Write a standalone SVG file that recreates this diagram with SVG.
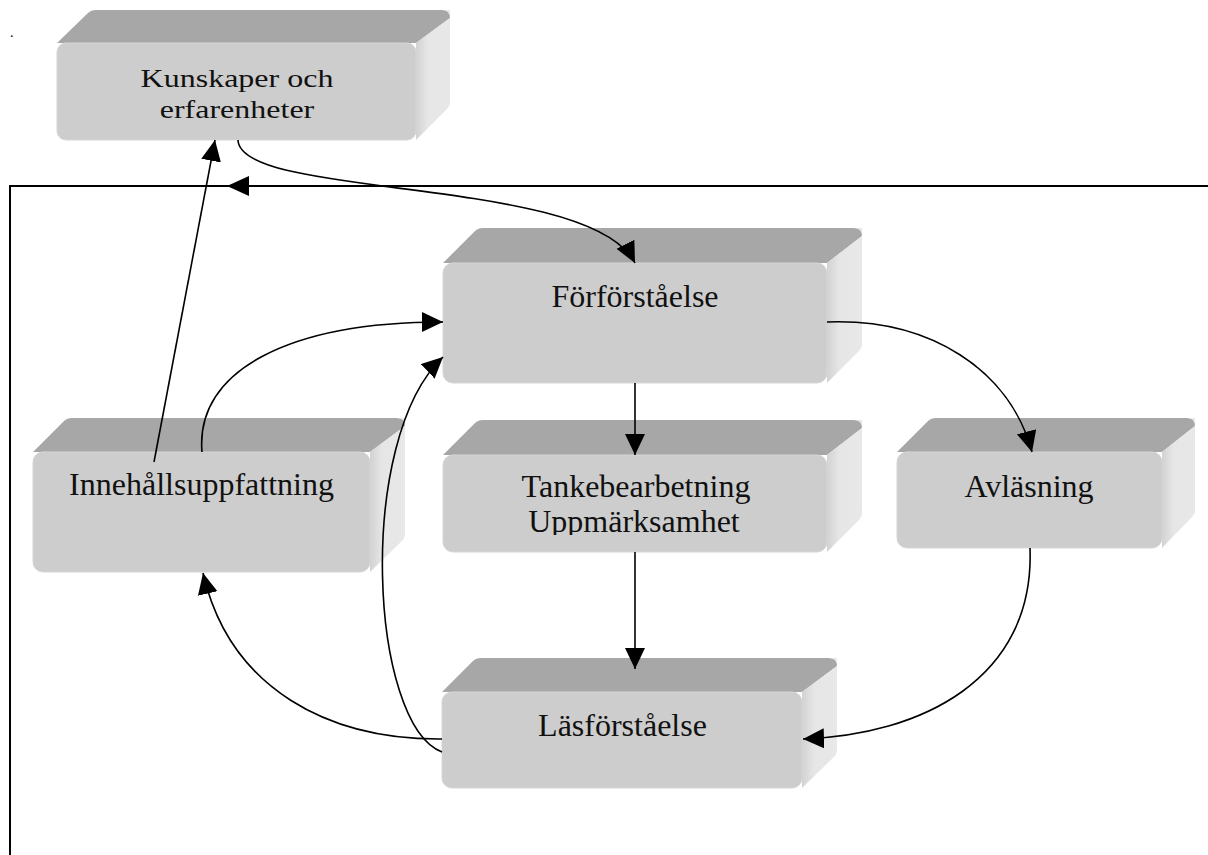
<svg xmlns="http://www.w3.org/2000/svg" width="1208" height="855" viewBox="0 0 1208 855">
<style>
.top{fill:#a6a7a6}
.side{fill:url(#sideGrad)}
.front{fill:#cdcdcd;stroke:#d6d6d6;stroke-width:1}
.lbl{font-family:"Liberation Serif","Times New Roman",serif;font-size:32px;fill:#111;text-anchor:middle}
.con{fill:none;stroke:#000;stroke-width:1.6}
.frame{fill:none;stroke:#000;stroke-width:2}
</style>
<defs>
<linearGradient id="sideGrad" x1="0" y1="0" x2="1" y2="0">
<stop offset="0" stop-color="#d2d2d2"/>
<stop offset="0.35" stop-color="#e6e6e6"/>
<stop offset="1" stop-color="#e8e8e8"/>
</linearGradient>
<marker id="arr" markerUnits="userSpaceOnUse" markerWidth="22" markerHeight="22" refX="21" refY="10" orient="auto">
<path d="M0,0 L21,10 L0,20 Z" fill="#000"/>
</marker>
<clipPath id="clipT"><rect x="443" y="455" width="384" height="80"/></clipPath>
</defs>
<rect width="1208" height="855" fill="#fff"/>
<text x="10" y="37" style="font-family:'Liberation Serif',serif;font-size:14px">.</text>

<g id="frame">
<path class="frame" d="M1208,186 H10 V855"/>
<polygon points="227,186 249,176 249,196" fill="#000"/>
</g>

<g id="node-kunskaper">
<path class="top" d="M57,43 L88,13 Q91,10 96,10 L442,10 Q450,10 450,18 L416,43 Z"/>
<path class="side" d="M416,43 L450,18 Q450,10 442,10 L450,10 L450,103 Q450,106 447,109 L416,140 Z"/>
<rect class="front" x="57" y="43" width="359" height="97" rx="9"/>
<text class="lbl" transform="matrix(1 0 0 0.8 0 0)"><tspan x="237" y="108.5">Kunskaper och</tspan><tspan x="237" y="147.5">erfarenheter</tspan></text>
</g>

<g id="node-forforstaelse">
<path class="top" d="M443,263 L475,231 Q478,228 483,228 L854,228 Q862,228 862,236 L827,263 Z"/>
<path class="side" d="M827,263 L862,236 Q862,228 854,228 L862,228 L862,345 Q862,348 859,351 L827,383 Z"/>
<rect class="front" x="443" y="263" width="384" height="120" rx="10"/>
<text class="lbl" x="635" y="307">Förförståelse</text>
</g>

<g id="node-tanke">
<path class="top" d="M443,455 L475,423 Q478,420 483,420 L854,420 Q862,420 862,428 L827,455 Z"/>
<path class="side" d="M827,455 L862,428 Q862,420 854,420 L862,420 L862,514 Q862,517 859,520 L827,552 Z"/>
<rect class="front" x="443" y="455" width="384" height="97" rx="10"/>
<g clip-path="url(#clipT)">
<text class="lbl"><tspan x="636" y="497">Tankebearbetning</tspan><tspan x="634" y="532">Uppmärksamhet</tspan></text>
</g>
</g>

<g id="node-avlasning">
<path class="top" d="M897,452 L928,421 Q931,418 936,418 L1187,418 Q1195,418 1195,426 L1162,452 Z"/>
<path class="side" d="M1162,452 L1195,426 Q1195,418 1187,418 L1195,418 L1195,511 Q1195,514 1192,517 L1162,548 Z"/>
<rect class="front" x="897" y="452" width="265" height="96" rx="10"/>
<text class="lbl" x="1029" y="497">Avläsning</text>
</g>

<g id="node-innehall">
<path class="top" d="M33,452 L64,421 Q67,418 72,418 L397,418 Q405,418 405,426 L370,452 Z"/>
<path class="side" d="M370,452 L405,426 Q405,418 397,418 L405,418 L405,535 Q405,538 402,541 L370,572 Z"/>
<rect class="front" x="33" y="452" width="337" height="120" rx="10"/>
<text class="lbl" x="201.5" y="495">Innehållsuppfattning</text>
</g>

<g id="node-lasforstaelse">
<path class="top" d="M442,692 L473,661 Q476,658 481,658 L829,658 Q837,658 837,666 L802,692 Z"/>
<path class="side" d="M802,692 L837,666 Q837,658 829,658 L837,658 L837,751 Q837,754 834,757 L802,788 Z"/>
<rect class="front" x="442" y="692" width="360" height="96" rx="10"/>
<text class="lbl" x="622.5" y="736">Läsförståelse</text>
</g>

<g id="connectors">
<path class="con" d="M154,462 L215,140" marker-end="url(#arr)"/>
<path class="con" d="M238,140 C240,200 590,175 635,263" marker-end="url(#arr)"/>
<path class="con" d="M202,452 C195,370 290,322 443,322" marker-end="url(#arr)"/>
<path class="con" d="M442,752 C370,725 355,440 443,357" marker-end="url(#arr)"/>
<path class="con" d="M827,322 C930,318 1010,370 1032,452" marker-end="url(#arr)"/>
<path class="con" d="M635,383 L635,455" marker-end="url(#arr)"/>
<path class="con" d="M635,552 L635,669" marker-end="url(#arr)"/>
<path class="con" d="M1030,548 C1035,680 920,735 803,739" marker-end="url(#arr)"/>
<path class="con" d="M442,739 C330,740 230,690 203,573" marker-end="url(#arr)"/>
</g>
</svg>
